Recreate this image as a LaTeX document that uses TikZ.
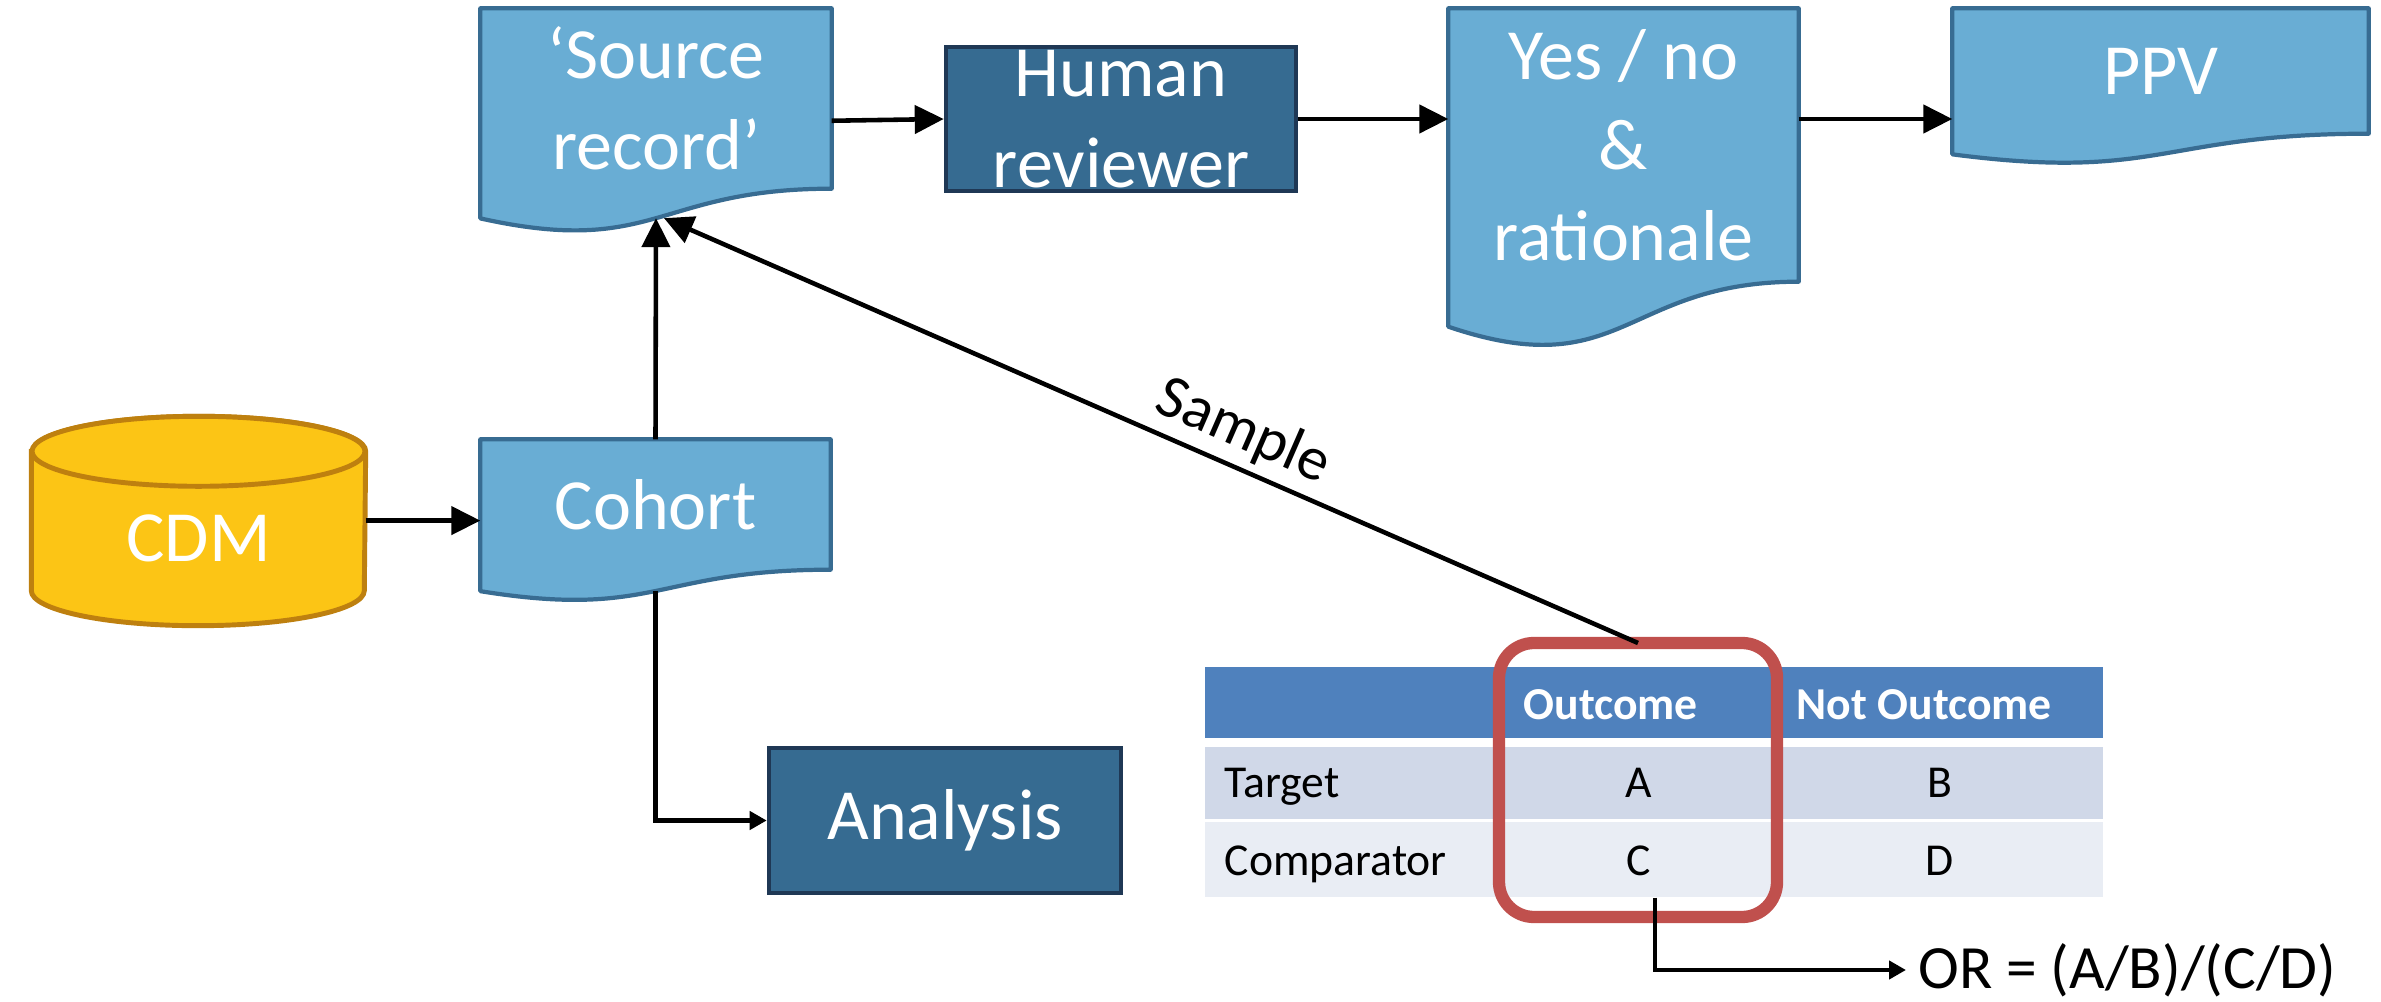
\documentclass[tikz,border=0pt]{standalone}
\usepackage{fontspec}
\setmainfont{Carlito}
\usetikzlibrary{calc,backgrounds,arrows.meta}

\definecolor{docfill}{RGB}{105,173,212}
\definecolor{docedge}{RGB}{56,108,146}
\definecolor{boxfill}{RGB}{54,107,145}
\definecolor{boxedge}{RGB}{31,56,85}
\definecolor{cdmfill}{RGB}{252,197,21}
\definecolor{cdmedge}{RGB}{190,128,15}
\definecolor{headblue}{RGB}{79,129,189}
\definecolor{rowdark}{RGB}{208,216,232}
\definecolor{rowlight}{RGB}{233,237,244}
\definecolor{hlred}{RGB}{192,80,77}

\newcommand{\flowfont}{\fontsize{20.5}{25.8}\selectfont}
\newcommand{\tabfont}{\fontsize{13}{15.6}\selectfont}
\newcommand{\notefont}{\fontsize{17.5}{21}\selectfont}

% document shape below the text area of node #1
\newcommand{\docshape}[1]{%
  \filldraw[docline] (#1.north west) -- (#1.north east) -- (#1.south east)
    .. controls (#1.south) and ($(#1.north)!1.381!(#1.south)$)
    .. ($(#1.north west)!1.1646!(#1.south west)$) -- cycle;
  \coordinate (#1-b) at ($(#1.north)!1.1633!(#1.south)$);
  \coordinate (#1-l) at ($(#1.north west)!0.6234!(#1.south west)$);
  \coordinate (#1-r) at ($(#1.north east)!0.6234!(#1.south east)$);
}

\begin{document}
\begin{tikzpicture}[
  docnode/.style={rectangle, inner sep=0pt, text=white, font=\flowfont, align=center},
  docline/.style={fill=docfill, draw=docedge, line width=1.2pt, line join=round},
  procnode/.style={rectangle, inner sep=0pt, fill=boxfill, draw=boxedge, line width=1.3pt,
    text=white, font=\flowfont, align=center},
  cdmnode/.style={rectangle, inner sep=0pt, text=white, font=\flowfont},
  cdmline/.style={fill=cdmfill, draw=cdmedge, line width=1.4pt},
  bigarr/.style={line width=1.3pt, -{Triangle[length=0.29cm, width=0.28cm]}},
  smallarr/.style={line width=1.3pt, -{Triangle[length=0.17cm, width=0.18cm]}},
  tabrow/.style={rectangle, inner sep=0pt, minimum width=8.98cm},
  cell/.style={inner sep=0pt, font=\tabfont},
  headcell/.style={inner sep=0pt, font=\tabfont\bfseries, text=white},
  hlbox/.style={rectangle, draw=hlred, line width=3.5pt, rounded corners=0.35cm, outer sep=0pt},
  samplelbl/.style={sloped, above, pos=0.42, inner sep=2pt, font=\notefont}
]
\useasboundingbox (0,0) rectangle (23.81,10.01);

\node[docnode, minimum width=3.50cm, minimum height=1.79cm] (src) at (6.56,9.025) {‘Source\\record’};
\node[procnode, minimum width=3.50cm, minimum height=1.44cm] (hum) at (11.21,8.82) {Human\\reviewer};
\node[docnode, minimum width=3.49cm, minimum height=2.72cm] (yes) at (16.235,8.56) {Yes / no\\\&\\rationale};
\node[docnode, minimum width=4.15cm, minimum height=1.24cm] (ppv) at (21.605,9.30) {PPV};
\node[docnode, minimum width=3.49cm, minimum height=1.29cm] (coh) at (6.555,4.965) {Cohort};
\node[procnode, minimum width=3.52cm, minimum height=1.45cm] (ana) at (9.45,1.805) {Analysis};
\node[cdmnode, minimum width=3.33cm, minimum height=1.03cm] (cdm) at (1.985,4.625) {CDM};

\node[tabrow, fill=headblue, minimum height=0.71cm] (thead) at (16.54,2.985) {};
\node[tabrow, fill=rowdark, minimum height=0.72cm] (trow1) at (16.54,2.18) {};
\node[tabrow, fill=rowlight, minimum height=0.75cm] (trow2) at (16.54,1.415) {};
\node[headcell, anchor=base west] (hout) at (15.23,2.82) {Outcome};
\node[headcell, anchor=base west] (hnot) at (17.96,2.82) {Not Outcome};
\node[cell, anchor=base west] (tgt) at (12.24,2.04) {Target};
\node[cell, anchor=base west] (cmp) at (12.24,1.26) {Comparator};
\foreach \n/\t/\x/\y in {a/A/16.39/2.04, b/B/19.40/2.04, c/C/16.39/1.26, d/D/19.40/1.26}
  \node[cell, anchor=base] (\n) at (\x,\y) {\t};
\node[hlbox, minimum width=2.78cm, minimum height=2.74cm] (hl) at (16.38,2.21) {};
\node[font=\notefont, anchor=west] (orlbl) at (19.06,0.31) {OR = (A/B)/(C/D)};

\begin{scope}[on background layer]
  \docshape{src}
  \docshape{yes}
  \docshape{ppv}
  \docshape{coh}
  \filldraw[cdmline] ([yshift=3.5mm]cdm.north west) -- (cdm.south west)
    arc[start angle=180, end angle=360, x radius=1.665cm, y radius=0.35cm]
    -- ([yshift=3.5mm]cdm.north east)
    arc[start angle=0, end angle=180, x radius=1.665cm, y radius=0.35cm] -- cycle;
  \draw[cdmline] ([yshift=3.5mm]cdm.north) ellipse[x radius=1.665cm, y radius=0.35cm];
\end{scope}

\draw[bigarr] (src-r) -- (hum.west);
\draw[bigarr] (hum.east) -- (hum.east -| yes.west);
\draw[bigarr] (yes.east |- hum.east) -- (ppv.west |- hum.east);
\draw[bigarr] (cdm.east |- coh-l) -- (coh-l);
\draw[bigarr] (coh.north) -- (src-b);
\draw[smallarr] (coh-b) |- (ana.west);
\draw[bigarr] (hl.north) -- node[samplelbl] {Sample} ([xshift=0.8mm]src-b);
\draw[smallarr] ([xshift=1.6mm]c |- trow2.south) |- (orlbl.west);
\end{tikzpicture}
\end{document}
